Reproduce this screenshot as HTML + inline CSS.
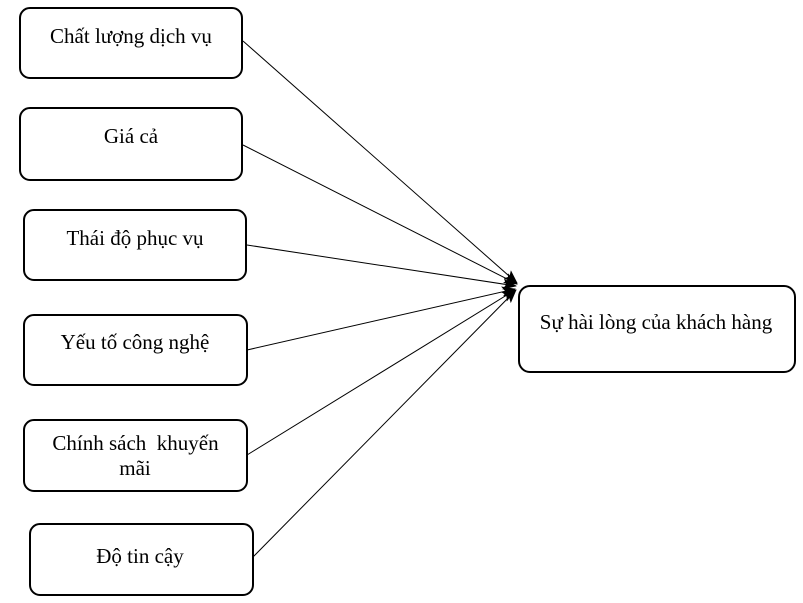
<!DOCTYPE html>
<html>
<head>
<meta charset="utf-8">
<style>
  html, body { margin: 0; padding: 0; background: #fff; }
  svg { display: block; }
  text { font-family: "Liberation Serif", "DejaVu Serif", serif; font-size: 21px; fill: #000; white-space: pre; }
</style>
</head>
<body>
<svg width="803" height="603" viewBox="0 0 803 603" xmlns="http://www.w3.org/2000/svg">
  <defs>
    <marker id="ah" markerWidth="14" markerHeight="11" refX="13" refY="5.5" orient="auto" markerUnits="userSpaceOnUse">
      <path d="M0,0 L14,5.5 L0,11 L3,5.5 Z" fill="#000"/>
    </marker>
  </defs>

  <!-- Left boxes -->
  <rect x="20" y="8" width="222" height="70" rx="10" ry="10" fill="#fff" stroke="#000" stroke-width="2"/>
  <rect x="20" y="108" width="222" height="72" rx="10" ry="10" fill="#fff" stroke="#000" stroke-width="2"/>
  <rect x="24" y="210" width="222" height="70" rx="10" ry="10" fill="#fff" stroke="#000" stroke-width="2"/>
  <rect x="24" y="315" width="223" height="70" rx="10" ry="10" fill="#fff" stroke="#000" stroke-width="2"/>
  <rect x="24" y="420" width="223" height="71" rx="10" ry="10" fill="#fff" stroke="#000" stroke-width="2"/>
  <rect x="30" y="524" width="223" height="71" rx="10" ry="10" fill="#fff" stroke="#000" stroke-width="2"/>

  <!-- Target box -->
  <rect x="519" y="286" width="276" height="86" rx="11" ry="11" fill="#fff" stroke="#000" stroke-width="2"/>

  <!-- Connectors -->
  <g stroke="#000" stroke-width="1" fill="none">
    <line x1="243" y1="41" x2="517" y2="283" marker-end="url(#ah)"/>
    <line x1="243" y1="145" x2="517" y2="284" marker-end="url(#ah)"/>
    <line x1="247" y1="245" x2="516" y2="286" marker-end="url(#ah)"/>
    <line x1="247" y1="350" x2="515" y2="289" marker-end="url(#ah)"/>
    <line x1="247" y1="455" x2="515" y2="290" marker-end="url(#ah)"/>
    <line x1="253" y1="557" x2="516" y2="290" marker-end="url(#ah)"/>
  </g>

  <!-- Labels -->
  <text x="131" y="43" text-anchor="middle">Chất lượng dịch vụ</text>
  <text x="131" y="143" text-anchor="middle">Giá cả</text>
  <text x="135" y="245" text-anchor="middle">Thái độ phục vụ</text>
  <text x="135" y="349" text-anchor="middle">Yếu tố công nghệ</text>
  <text x="135.5" y="450" text-anchor="middle" xml:space="preserve">Chính sách  khuyến</text>
  <text x="135" y="475" text-anchor="middle">mãi</text>
  <text x="140" y="563" text-anchor="middle">Độ tin cậy</text>
  <text x="656" y="329" text-anchor="middle">Sự hài lòng của khách hàng</text>
</svg>
</body>
</html>
